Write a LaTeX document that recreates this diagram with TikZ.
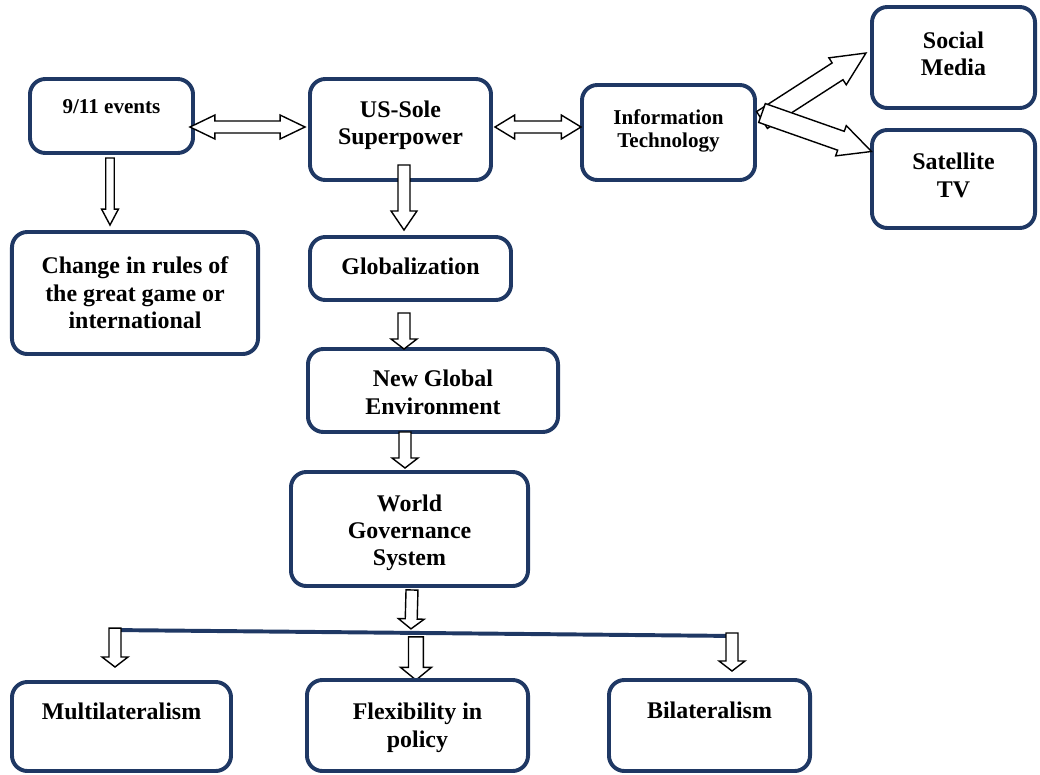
\documentclass[tikz,border=0pt]{standalone}
\usepackage{fontspec}
\setmainfont{Liberation Serif}
\usetikzlibrary{calc}
\definecolor{boxblue}{RGB}{31,56,100}
\pgfdeclarelayer{back}
\pgfsetlayers{back,main}
\tikzset{
	arrshaft/.store in=\shafthw, arrhead/.store in=\headhw, arrlen/.store in=\tiplen,
	arrshaft=4.25pt, arrhead=9.2pt, arrlen=7.1pt,
	box/.style={draw=boxblue, line width=2.8pt, rounded corners=11pt, align=center, inner sep=0pt,
		font=\bfseries\fontsize{17}{19.5}\selectfont},
	fat/.style={draw=black, fill=white, line width=1pt, line join=miter, to path={
		let \p1=(\tikztostart), \p2=(\tikztotarget), \n1={atan2(\y2-\y1,\x2-\x1)}, \n2={veclen(\x2-\x1,\y2-\y1)} in
		[shift={(\p1)}, rotate=\n1] (0pt,-\shafthw) -- ({\n2-\tiplen},-\shafthw) -- ({\n2-\tiplen},-\headhw)
		-- (\n2,0pt) -- ({\n2-\tiplen},\headhw) -- ({\n2-\tiplen},\shafthw) -- (0pt,\shafthw) -- cycle}},
	fatboth/.style={draw=black, fill=white, line width=1pt, line join=miter, to path={
		let \p1=(\tikztostart), \p2=(\tikztotarget), \n1={atan2(\y2-\y1,\x2-\x1)}, \n2={veclen(\x2-\x1,\y2-\y1)} in
		[shift={(\p1)}, rotate=\n1] (0pt,0pt) -- (\tiplen,\headhw) -- (\tiplen,\shafthw) -- ({\n2-\tiplen},\shafthw)
		-- ({\n2-\tiplen},\headhw) -- (\n2,0pt) -- ({\n2-\tiplen},-\headhw) -- ({\n2-\tiplen},-\shafthw)
		-- (\tiplen,-\shafthw) -- (\tiplen,-\headhw) -- cycle}}
}
\begin{document}
\begin{tikzpicture}[x=0.025cm, y=-0.025cm]
	\useasboundingbox (0,0) rectangle (1040,775);
	\node[box, minimum width=4.075cm, minimum height=1.85cm, text depth=13pt, font=\bfseries\fontsize{15}{16.5}\selectfont] (ev) at (111.5,116) {9/11 events};
	\node[box, minimum width=4.525cm, minimum height=2.525cm, text depth=9.3pt] (us) at (400.5,129.5) {US-Sole\\Superpower};
	\node[box, minimum width=4.325cm, minimum height=2.375cm, text depth=6.1pt, font=\bfseries\fontsize{15}{16.5}\selectfont] (it) at (668.5,132.5) {Information\\Technology};
	\node[box, minimum width=4.075cm, minimum height=2.525cm, text depth=5.6pt] (sm) at (953.5,57.5) {Social\\Media};
	\node[box, minimum width=4.075cm, minimum height=2.45cm, text depth=5.6pt] (tv) at (953.5,179) {Satellite\\TV};
	\node[box, minimum width=6.15cm, minimum height=3.05cm] (ch) at (135,293) {Change in rules of\\the great game or\\international};
	\node[box, minimum width=5.025cm, minimum height=1.575cm, text depth=2.8pt] (gl) at (410.5,268.5) {Globalization};
	\node[box, minimum width=6.25cm, minimum height=2.075cm] (ng) at (433,390.5) {\rule{0pt}{14.3pt}New Global\\Environment};
	\node[box, minimum width=5.925cm, minimum height=2.85cm] (wg) at (409.5,529) {\rule{0pt}{17.1pt}World\\Governance\\System};
	\node[box, minimum width=5.475cm, minimum height=2.225cm, text depth=22pt] (ml) at (121.5,726.5) {Multilateralism};
	\node[box, minimum width=5.525cm, minimum height=2.275cm] (fx) at (417.5,725.5) {\rule{0pt}{15pt}Flexibility in\\policy};
	\node[box, minimum width=5.025cm, minimum height=2.275cm, text depth=22pt] (bl) at (709.5,725.5) {Bilateralism};

	\coordinate (barl) at (110,630);
	\coordinate (barr) at (737,636);
	\draw[boxblue, line width=2.8pt] (barl) -- (barr);

	\draw[fatboth, arrhead=8.5pt, arrlen=17.7pt] ([shift={(-5,11)}]ev.east) to ([shift={(-3,-2.5)}]us.west);
	\draw[fatboth, arrhead=8.5pt, arrlen=14pt] ([shift={(2,-2.5)}]us.east) to ([shift={(1,-5.5)}]it.west);
	\draw[fat, arrlen=13.5pt] ([shift={(3.5,-17)}]us.south) to ([shift={(-6.5,-5)}]gl.north);
	\draw[fat, arrshaft=3pt, arrhead=6pt, arrlen=11.3pt] ([shift={(-1.5,3)}]ev.south) to ([shift={(-25,-5)}]ch.north);
	\draw[fat] ([shift={(-6.5,11)}]gl.south) to ([shift={(-29,2)}]ng.north);
	\draw[fat] ([shift={(-28,-2)}]ng.south) to ([shift={(-4.5,-2)}]wg.north);
	\draw[fat] ([shift={(2.5,2)}]wg.south) to ($(barl)!0.48!(barr)+(0,-4)$);
	\draw[fat] ($(barl)!0.008!(barr)+(0,-2)$) to ([shift={(-6.5,-13)}]ml.north);
	\begin{pgfonlayer}{back}
		\draw[fat, arrshaft=5.3pt, arrhead=11pt, arrlen=9pt] ($(barl)!0.488!(barr)+(0,4)$) to ([shift={(-1.5,2)}]fx.north);
	\end{pgfonlayer}
	\draw[fat] ($(barl)!0.992!(barr)+(0,-3)$) to ([shift={(22.5,-7)}]bl.north);
	\draw[fat, arrshaft=7.1pt, arrhead=11.4pt, arrlen=24pt] ([shift={(5,-12.5)}]it.east) to ([shift={(-4,-4.5)}]sm.west);
	\draw[fat, arrshaft=7.1pt, arrhead=11.4pt, arrlen=23pt] ([shift={(5,-19.5)}]it.east) to ([shift={(1.5,-27.5)}]tv.west);
\end{tikzpicture}
\end{document}
